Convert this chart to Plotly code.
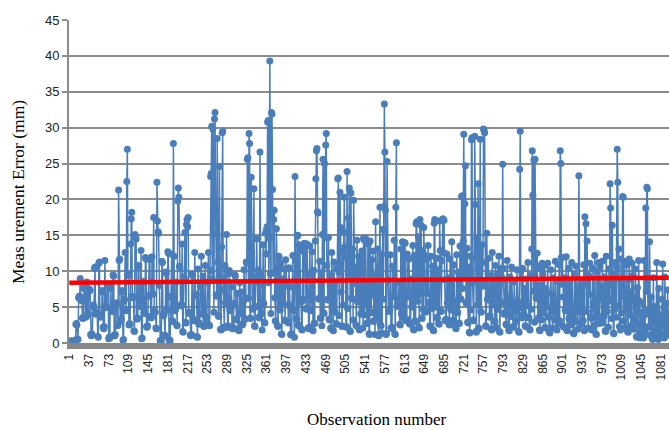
import plotly.graph_objects as go

block_01 = [0.2,0.1,0.2,0.3,0.2,0.1,0.2,0.3,0.2,0.2,0.3,0.4, 2.6,2.7,2.5,0.6,0.5, 6.3,6.5,6.2, 9.0, 6.4,6.2,5.9, 3.5,3.4,3.6, 7.7,7.6,7.5, 3.6,3.7, 8.5,8.4, 4.2,4.0]
block_02 = [7.4,7.5,7.3, 1.2,1.0,1.3,1.1, 5.1,5.3,5.0, 10.4,10.6, 4.2,4.0,4.3,4.1, 0.9,0.8, 11.1,11.3, 3.8,3.6,3.9,3.7, 7.3,7.1, 2.2,2.0,2.3, 11.5, 4.9,5.1,5.0, 8.1,8.0,7.9]
block_03 = [0.6,0.8,0.7, 7.8,7.6, 4.5,4.6,4.4, 9.5,9.3, 1.1,1.0,1.2, 5.5,5.4,5.6, 2.4,2.5, 21.3, 11.5,11.7, 3.2,3.1,3.3, 7.1,7.3, 0.4,0.5, 5.9,6.1, 12.6, 4.6,4.5, 22.5,27.0, 9.6]
block_04 = [9.4, 2.5,2.7,2.6, 13.8, 17.3,18.2, 6.4,6.5,6.3, 1.7,1.6, 15.1,14.7,14.5, 3.4,3.3,3.5, 10.8,10.6, 5.2,5.1,5.3, 12.9, 0.6,0.7, 8.4,8.6, 4.2,4.3,4.1, 11.9,11.7, 2.3,2.2,2.4]
block_05 = [6.6,6.5, 11.8,11.6, 3.7,3.5,3.6, 12.0, 6.9,6.8, 17.5, 4.4,4.5,4.3, 2.1,2.0, 22.4,17.0, 15.5,15.3, 8.1,8.0, 0.3,0.4,0.3, 11.4,11.2, 3.9,3.8,4.0, 1.1,1.0, 9.9,9.7, 4.7,4.6]
block_06 = [12.7,12.5, 0.5,0.3,0.4, 6.4,6.5, 12.4, 3.1,3.0, 27.8, 12.1, 4.6,4.5,4.7, 8.5, 2.5,2.4, 19.8,21.6,20.3, 10.7,10.5, 5.3,5.2,5.4, 13.8, 1.6,1.5, 9.2,9.0, 15.4, 2.9,2.8, 16.5,17.2]
block_07 = [16.2,17.5, 4.3,4.1,4.2, 1.1,1.0,1.2, 9.6,9.4, 3.2,3.3,3.1, 12.6, 6.7,6.6,6.8, 0.9,0.8, 10.3, 2.7,2.6,2.8, 7.9,7.8, 12.1, 4.1,4.0, 9.3, 2.4,2.3,2.5, 10.8, 3.5,3.4,3.6]
block_08 = [8.5,8.4, 12.6, 2.5,2.4, 10.1, 23.2,23.6,30.2, 8.9, 29.8, 15.2, 4.3, 31.2,32.1, 18.6, 6.7,6.5, 28.5, 11.3, 3.8,3.7, 24.6, 9.2, 1.9,1.8, 13.4, 29.3,29.5, 7.4, 2.2,2.1, 10.8, 5.6,5.5, 15.1]
block_09 = [2.3,2.2,2.4, 9.7,10.1, 4.6,4.5,4.7, 7.8, 2.1,2.0,2.2, 5.4,5.5, 9.5,9.3, 3.3,3.2,3.4, 6.9, 1.8,1.9,1.7, 8.4, 4.2,4.1, 7.1, 2.6,2.5,2.7, 5.9, 10.2, 3.4,3.3, 6.3, 11.3]
block_10 = [11.1,25.6,25.8, 6.2, 29.2,27.8, 3.5,3.4, 23.1, 12.6, 4.8,4.7, 9.3, 21.5, 2.4,2.3, 8.6,8.5, 14.5, 5.1,5.0, 10.2, 3.6,3.5, 26.6, 9.4, 4.2,4.1, 1.8, 8.1, 13.7, 5.5, 2.9,2.8, 15.3, 12.4]
block_11 = [15.8,16.2,30.8,31.0, 8.4, 14.6,39.3, 9.6, 4.1, 32.1,31.9, 21.4, 9.8, 17.2,18.5, 6.3, 3.1,3.0, 15.9, 10.4, 2.4,2.3, 12.1,12.0, 4.7,4.6, 11.1, 1.3,1.2, 8.9, 5.6,5.5, 10.3, 3.2,3.1, 11.6]
block_12 = [8.1,8.0,8.2, 2.9,2.8, 10.5, 5.3,5.2, 1.2,1.1,1.3, 7.8, 12.2, 4.6,4.5, 0.8, 23.2, 11.5, 3.4,3.3, 14.9,15.0, 2.5,2.4, 13.7,13.5, 5.8,5.7, 1.9,1.8, 12.8, 6.1,6.0, 13.9,13.8, 13.6]
block_13 = [4.8,4.7, 13.8, 9.5, 2.1,2.0,2.2, 13.5, 7.3, 4.6,4.5, 12.7, 1.8,1.7, 10.1, 2.8,2.7, 14.2, 22.9,26.8,27.1, 18.3,18.1, 6.2,6.1, 11.4, 3.5,3.4, 9.8, 2.4, 15.1, 25.6, 4.2,4.1, 25.0, 14.7]
block_14 = [27.6,29.2, 10.8, 6.1,6.0, 14.7, 3.3,3.2, 9.4, 2.1,2.0, 12.6, 7.4, 1.8,1.7, 11.3, 4.4,4.3, 8.6, 2.7,2.6, 10.4, 22.9,23.0, 9.9, 3.8, 21.0,16.1, 7.1, 2.4,2.3, 12.8, 5.3, 15.5, 20.3, 13.4]
block_15 = [11.9, 2.3,2.2, 23.9, 4.8, 17.4, 9.2, 21.6, 1.7,1.6, 20.9, 6.3,6.2, 13.1, 3.2, 19.9, 8.4,8.3, 10.6, 2.5,2.4, 14.3, 5.8,5.7, 12.1, 1.9,1.8, 11.4, 4.1,4.0, 12.8, 6.5, 2.1, 14.6,14.4, 3.9]
block_16 = [14.6,14.5, 5.6, 2.8,2.7, 13.9,13.8, 1.3,1.2, 14.2, 4.3,4.2, 11.6, 6.7, 12.8, 3.1,3.0, 9.4, 1.2, 16.9, 8.1, 3.6,3.5, 13.1, 1.1,1.0, 10.4, 18.9, 2.5,2.4, 12.4, 1.4, 15.8, 6.1, 19.0, 33.3]
block_17 = [26.6, 18.5, 1.2,1.3, 25.3, 8.8,8.7, 4.5,4.4,4.6, 12.3, 2.1,2.0,2.2, 10.7, 6.4,6.5, 14.3, 1.3,1.2, 18.9, 27.9, 5.2,5.1,5.3, 8.4,8.5, 2.6,2.5, 13.1, 4.1,4.0, 14.1,14.0, 3.6,3.5]
block_18 = [14.0,13.9, 3.2,3.1,3.3, 12.4, 6.5,6.4, 11.7, 2.7,2.6,2.8, 8.9, 5.1,5.0, 13.6, 1.9,1.8, 12.2, 3.1,3.0, 16.6,16.9, 5.9,5.8, 14.8, 2.2,2.1, 17.2, 6.8, 16.4, 3.5,3.4, 12.9, 4.7, 16.1]
block_19 = [12.3, 4.4,4.3,4.5, 11.6, 6.9,7.0, 13.6, 5.7,5.6, 2.4,2.3, 12.1, 4.9,4.8, 10.7, 1.8,1.7, 16.7,17.2, 5.1,5.0, 11.8, 3.6,3.5, 10.2, 2.7,2.6, 17.0, 12.9, 4.5,4.4, 11.5, 17.2,17.3, 12.6]
block_20 = [17.1, 8.8, 3.2,3.1,3.3, 12.4, 5.6,5.5, 9.1, 2.6,2.5, 11.7, 4.7,4.6, 14.1, 3.1,3.0,3.2, 10.9, 5.9,5.8, 2.1,2.0, 12.3, 4.3,4.2, 9.9, 2.8,2.7, 13.5, 6.2,6.1, 20.4,20.5, 7.6, 14.2]
block_21 = [29.1, 9.3, 19.4, 24.7, 5.6,5.5, 13.2, 2.9,2.8, 10.6, 1.5,1.4, 12.1, 4.6, 28.3,28.6, 8.4, 3.2,3.1, 11.9, 28.8, 19.3, 1.6,1.5, 14.6, 5.3, 22.2, 2.1,2.0, 12.9, 28.4, 4.4,4.3, 13.7, 7.9, 11.2]
block_22 = [29.8,29.6,29.3, 8.6, 2.4,2.3, 15.3, 6.1,6.0, 11.8, 3.7,3.6,3.8, 9.4, 1.9,1.8, 12.6, 5.4,5.3, 8.2, 3.1,3.0, 10.8, 2.2,2.1, 9.6, 4.8,4.7, 12.1, 1.6,1.5, 10.4, 5.7,5.6, 9.1, 24.9]
block_23 = [10.4, 4.1,4.0,4.2, 8.7, 2.6,2.5, 11.5, 6.4,6.3, 1.8,1.7, 9.2, 3.8,3.7, 10.6, 5.4,5.3, 2.3,2.2, 8.5, 4.6,4.5, 3.1,3.0, 10.2, 5.8,5.7, 1.6,1.5, 24.2, 29.5, 10.1, 4.9, 3.5, 10.4]
block_24 = [10.3, 4.1,4.0, 7.6, 2.4,2.3, 8.9, 5.3,5.2, 11.2, 3.6,3.5, 1.9,1.8, 9.4, 4.7, 13.1, 26.8, 20.6, 7.2, 25.5, 2.9, 25.6, 10.9, 6.3,6.2, 12.5, 3.4,3.3, 8.1, 1.8,1.7, 10.4, 3.3,3.2, 11.1]
block_25 = [9.6, 4.3,4.2, 10.8, 2.2,2.1, 7.6, 5.1,5.0, 11.1, 3.7,3.6, 1.5,1.4, 6.9, 10.2, 4.6,4.5, 2.1, 9.1, 5.8,5.7, 3.2, 11.4, 4.2, 1.9,1.8, 8.6, 2.8,2.7, 10.9, 3.1, 26.8, 25.0, 11.9, 8.2]
block_26 = [11.9, 6.4, 2.3,2.2, 9.1, 4.6,4.5, 12.0, 1.8,1.7, 5.9, 10.4, 3.4,3.3, 8.7, 2.6,2.5, 11.2, 4.1,4.0, 1.4,1.3, 9.6, 3.1,3.0, 10.7, 4.5,4.4, 1.9, 7.6, 23.3, 5.4, 2.6,2.5, 8.4, 4.3]
block_27 = [7.8, 3.2,3.1, 10.9, 1.7, 17.6, 8.3, 16.6, 4.4, 14.2, 2.1,2.0, 9.4, 6.8, 11.1, 3.6,3.5, 1.9,1.8, 10.4, 5.5,5.4, 2.4, 12.2, 4.9, 1.3,1.2, 9.9, 3.8,3.7, 11.2, 2.7, 10.6, 7.9, 6.2, 3.0]
block_28 = [2.8, 11.4, 6.7, 3.9,3.8, 9.2, 1.7,1.6, 12.1, 4.5,4.4, 8.6, 2.2, 10.3, 5.8, 22.2, 18.8, 8.1, 3.4, 16.4, 6.1, 1.4,1.3, 9.5, 4.7, 11.2, 3.6, 10.6, 27.0, 22.4, 5.2, 13.1, 2.3, 8.9, 1.8, 11.7]
block_29 = [4.2, 7.9, 20.4,20.3, 3.1, 11.4, 6.5, 2.2,2.1, 10.9, 5.4, 1.6,1.5, 8.8, 11.7, 3.9, 7.1, 2.4,2.3, 11.1, 5.8, 9.4, 1.9, 6.3, 3.2, 10.3, 4.7, 0.9,0.8, 7.7, 2.6, 11.5, 5.9, 1.4, 0.7, 4.3]
block_30 = [2.1,2.0, 5.6, 0.8,0.7, 11.5, 3.9, 1.5, 18.8, 7.2, 21.7, 21.5, 4.6, 2.3,2.2, 14.1, 1.1,1.0, 6.4, 3.2, 0.6,0.5, 9.1, 2.8, 5.1, 1.7, 3.6, 0.9, 11.2, 4.4, 2.1, 0.5, 7.6, 3.3, 1.4, 2.6]
block_31 = [3.8,1.2,6.1,11.0,2.4,4.9,0.7,9.2,3.1,1.6,5.5,2.3,7.4,1.1,4.2]

blocks = [block_01, block_02, block_03, block_04, block_05, block_06, block_07, block_08,
          block_09, block_10, block_11, block_12, block_13, block_14, block_15, block_16,
          block_17, block_18, block_19, block_20, block_21, block_22, block_23, block_24,
          block_25, block_26, block_27, block_28, block_29, block_30, block_31]
errors = [v for b in blocks for v in b]
observations = list(range(1, len(errors) + 1))

# Linear trend line end values (as drawn)
trend_obs = [1, len(errors)]
trend_values = [8.4, 9.1]

# Tick labels
x_tick_values = list(range(1, 1082, 36))
x_tick_labels = [str(v) for v in x_tick_values]
y_tick_values = list(range(0, 46, 5))

x_title = "Observation number"
y_title = "Meas urement Error (mm)"

blue = "#4A7EBB"
serif = "Liberation Serif, Times New Roman, serif"

fig = go.Figure()
fig.add_trace(go.Scatter(
    x=observations, y=errors, mode="lines+markers",
    line=dict(color=blue, width=1.5),
    marker=dict(color=blue, size=7),
    showlegend=False, hoverinfo="x+y"))
fig.add_trace(go.Scatter(
    x=trend_obs, y=trend_values, mode="lines",
    line=dict(color="#FF0000", width=4.5),
    showlegend=False))

fig.update_layout(
    width=669, height=430,
    margin=dict(l=69, r=0, t=20, b=87),
    paper_bgcolor="white", plot_bgcolor="white",
    font=dict(family="Liberation Sans, Arial, sans-serif", color="#222222"),
    annotations=[
        dict(text=x_title, xref="paper", yref="paper", x=0.513, y=-0.236,
             xanchor="center", yanchor="middle", showarrow=False,
             font=dict(family=serif, size=17, color="#000000")),
        dict(text=y_title, xref="paper", yref="paper", x=-0.085, y=0.4675,
             xanchor="center", yanchor="middle", showarrow=False, textangle=-90,
             font=dict(family=serif, size=17.5, color="#000000")),
    ],
)
fig.update_xaxes(
    range=[0.5, len(errors) + 0.5],
    tickmode="array", tickvals=x_tick_values, ticktext=x_tick_labels,
    tickangle=-90, tickfont=dict(size=12, color="#222222"),
    showgrid=False, zeroline=False,
    showline=True, linecolor="#878787", linewidth=6,
    ticks="", layer="below traces",
)
fig.update_yaxes(
    range=[0, 45],
    tickmode="array", tickvals=y_tick_values,
    tickfont=dict(size=13, color="#222222"),
    showgrid=True, gridcolor="#8C8C8C", gridwidth=2,
    zeroline=False,
    showline=True, linecolor="#8C8C8C", linewidth=2,
    ticks="outside", ticklen=5, tickwidth=2, tickcolor="#8C8C8C",
    layer="below traces",
)

fig.write_html("out.html")
